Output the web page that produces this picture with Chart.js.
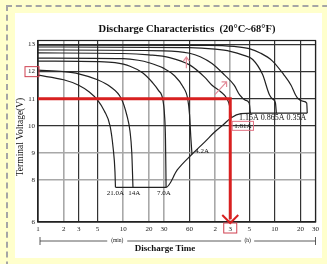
<!DOCTYPE html>
<html>
<head>
<meta charset="utf-8">
<script src="https://cdn.jsdelivr.net/npm/chart.js@4.4.0/dist/chart.umd.min.js"></script>
<style>
  html, body { margin: 0; padding: 0; }
  body { width: 327px; height: 264px; background: #ffffcc; position: relative; overflow: hidden; }
  .frame { position: absolute; left: 6px; top: 5px; width: 340px; height: 290px;
           border-left: 2px dashed #a5a5a5; border-top: 2px dashed #a5a5a5; }
  .box { position: absolute; left: 15px; top: 13px; width: 307px; height: 245px; background: #fff; }
  canvas { display: block; }
</style>
</head>
<body>
<div class="frame"></div>
<div class="box"><canvas id="chart" width="307" height="245"></canvas></div>
<script>
// x: discharge time in minutes (log), y: terminal voltage
const xTicks = [1, 2, 3, 5, 10, 20, 30, 60, 120, 180, 300, 600, 1200, 1800];
const xTickLabels = ['1', '2', '3', '5', '10', '20', '30', '60', '2', '3', '5', '10', '20', '30'];
const yTicks = [6.45, 8, 9, 10, 11, 12, 13];
const yTickLabels = ['6', '8', '9', '10', '11', '12', '13'];

const t21A = [1, 2, 3, 4, 5, 6, 7, 7.6, 8.0, 8.1];
const v21A = [11.87, 11.7, 11.5, 11.25, 10.95, 10.55, 10.0, 9.2, 8.3, 7.73];
const t14A = [1, 2, 3, 5, 7, 9.5, 11, 12, 12.6, 13];
const v14A = [12.06, 12.0, 11.92, 11.7, 11.45, 11.0, 10.4, 9.8, 9.0, 7.73];
const t7A = [1, 5, 8, 12, 17, 22, 26, 29, 30.5, 31.3, 31.8];
const v7A = [12.39, 12.37, 12.33, 12.2, 11.95, 11.6, 11.3, 11.0, 10.4, 9.5, 7.73];
const t4A2 = [1, 10, 15, 20, 30, 40, 50, 57, 60, 62, 64];
const v4A2 = [12.5, 12.48, 12.42, 12.33, 12.12, 11.85, 11.45, 11.0, 10.4, 9.6, 8.95];
const t1A81 = [1, 10, 20, 35, 60, 90, 110, 140, 165, 178, 185];
const v1A81 = [12.69, 12.67, 12.62, 12.52, 12.25, 11.8, 11.5, 11.25, 11.0, 10.7, 10.3];
const t1A15 = [1, 30, 60, 80, 110, 155, 200, 232, 270, 300, 310];
const v1A15 = [12.8, 12.77, 12.68, 12.55, 12.3, 11.87, 11.5, 11.14, 10.95, 10.84, 10.47];
const t0A865 = [1, 60, 120, 180, 260, 330, 430, 520, 570, 610, 625];
const v0A865 = [12.91, 12.89, 12.83, 12.75, 12.6, 12.45, 11.9, 11.14, 10.98, 10.85, 10.47];
const t0A35 = [1, 100, 200, 300, 410, 560, 760, 930, 1050, 1130, 1300, 1420, 1440];
const v0A35 = [12.98, 12.97, 12.93, 12.85, 12.68, 12.4, 11.9, 11.5, 11.14, 11.0, 10.9, 10.84, 10.47];
// final discharge voltage line
const tCut = [8.1, 13, 31.8, 43, 64, 90, 118, 150, 185, 240, 330, 625, 1440];
const vCut = [7.73, 7.73, 7.73, 8.37, 8.95, 9.4, 9.77, 10.05, 10.3, 10.45, 10.47, 10.47, 10.47];
// red reading line: 11V -> 3h
const tRed = [1, 180, 180];
const vRed = [11, 11, 6.55];

const pts = (t, v) => t.map((x, i) => ({ x, y: v[i] }));
const curve = (t, v) => ({
  data: pts(t, v), borderColor: '#222', borderWidth: 1.2, pointRadius: 0,
  cubicInterpolationMode: 'monotone', showLine: true
});

const serif = "'Liberation Serif', 'DejaVu Serif', serif";
const darkX = [1, 3, 5, 60, 300, 600, 1200, 1800];
const grayY = [8, 9];

const decor = {
  id: 'decor',
  beforeDatasetsDraw(chart) {
    const { ctx, chartArea: a } = chart;
    ctx.save();
    ctx.strokeStyle = '#222';
    ctx.lineWidth = 1.2;
    ctx.strokeRect(a.left, a.top, a.right - a.left, a.bottom - a.top);
    ctx.restore();
  },
  afterDraw(chart) {
    const { ctx, chartArea: a, scales } = chart;
    const px = v => scales.x.getPixelForValue(v);
    const py = v => scales.y.getPixelForValue(v);
    ctx.save();
    ctx.fillStyle = '#111';
    ctx.textBaseline = 'middle';

    // titles
    ctx.textAlign = 'center';
    ctx.font = 'bold 10.5px ' + serif;
    ctx.fillText('Discharge Characteristics  (20\u00b0C~68\u00b0F)', 172, 16);
    ctx.font = 'bold 9px ' + serif;
    ctx.fillText('Discharge Time', 150, 236);
    ctx.save();
    ctx.translate(5, 124);
    ctx.rotate(-Math.PI / 2);
    ctx.font = '9.5px ' + serif;
    ctx.fillText('Terminal Voltage(V)', 0, 0);
    ctx.restore();

    // (min) / (h) bracket
    const by = 228;
    ctx.strokeStyle = '#333';
    ctx.lineWidth = 0.8;
    ctx.beginPath();
    ctx.moveTo(a.left + 2, by - 4); ctx.lineTo(a.left + 2, by + 4);
    ctx.moveTo(a.right, by - 4); ctx.lineTo(a.right, by + 4);
    ctx.moveTo(a.left + 2, by); ctx.lineTo(px(10) - 16, by);
    ctx.moveTo(px(10) + 4, by); ctx.lineTo(px(300) - 8, by);
    ctx.moveTo(px(300) + 5, by); ctx.lineTo(a.right, by);
    ctx.stroke();
    ctx.font = '5.5px ' + serif;
    ctx.fillText('(min)', px(10) - 6, by);
    ctx.fillText('(h)', px(300) - 1.5, by);

    // current labels
    ctx.font = '7px ' + serif;
    ctx.fillText('21.0A', px(8.1), py(7.5));
    ctx.fillText('14A', px(13.5), py(7.5));
    ctx.fillText('7.0A', px(30), py(7.5));
    ctx.textAlign = 'left';
    ctx.fillText('4.2A', px(70), py(9.05));
    ctx.fillText('1.81A', px(200), py(10.0));
    ctx.font = '8px ' + serif;
    ctx.fillText('1.15A 0.865A 0.35A', px(228), py(10.28));

    // red / pink marks
    ctx.font = '7px ' + serif;
    ctx.strokeStyle = '#e07080';
    ctx.lineWidth = 1;
    const bw = ctx.measureText('1.81A').width;
    ctx.strokeRect(px(200) - 2, py(10.0) - 4.5, bw + 4, 9);
    ctx.strokeStyle = '#d04050';
    ctx.strokeRect(a.left - 13, py(12) - 5, 14, 10);
    ctx.strokeRect(px(180) - 6.5, a.bottom + 1, 13, 10);

    ctx.strokeStyle = '#d82020';
    ctx.lineWidth = 2;
    ctx.beginPath();
    ctx.moveTo(px(180) - 8, a.bottom - 7);
    ctx.lineTo(px(180), a.bottom + 1);
    ctx.lineTo(px(180) + 8, a.bottom - 7);
    ctx.stroke();

    ctx.strokeStyle = '#e28a98';
    ctx.lineWidth = 1.2;
    const ax = px(55);
    ctx.beginPath();
    ctx.moveTo(ax, py(12.13)); ctx.lineTo(ax, py(12.54));
    ctx.moveTo(ax - 3, py(12.54) + 4); ctx.lineTo(ax, py(12.54)); ctx.lineTo(ax + 3, py(12.54) + 4);
    const x0 = px(118), y0 = py(11.14), x1 = px(163), y1 = py(11.62);
    ctx.moveTo(x0, y0); ctx.lineTo(x1, y1);
    ctx.moveTo(x1 - 5, y1); ctx.lineTo(x1, y1); ctx.lineTo(x1, y1 + 5);
    ctx.stroke();
    ctx.restore();
  }
};

new Chart(document.getElementById('chart'), {
  type: 'scatter',
  data: {
    datasets: [
      { data: pts(tRed, vRed), borderColor: '#d82020', borderWidth: 3, pointRadius: 0, showLine: true, tension: 0 },
      curve(t21A, v21A),
      curve(t14A, v14A),
      curve(t7A, v7A),
      curve(t4A2, v4A2),
      curve(t1A81, v1A81),
      curve(t1A15, v1A15),
      curve(t0A865, v0A865),
      curve(t0A35, v0A35),
      curve(tCut, vCut)
    ]
  },
  options: {
    responsive: false,
    animation: false,
    layout: { padding: { left: 0, top: 27.5, right: 5.7, bottom: 0 } },
    plugins: { legend: { display: false }, tooltip: { enabled: false } },
    scales: {
      x: {
        type: 'logarithmic', min: 1, max: 1800,
        afterBuildTicks: s => { s.ticks = xTicks.map(value => ({ value })); },
        afterFit: s => { s.height = 36; },
        ticks: {
          autoSkip: false, maxRotation: 0, padding: 3, color: '#222',
          font: { family: serif, size: 7 },
          callback: (v, i) => xTickLabels[i]
        },
        grid: {
          drawTicks: false,
          color: c => darkX.includes(c.tick.value) ? '#333' : '#a8a8a8',
          lineWidth: c => darkX.includes(c.tick.value) ? 1.2 : 1.6
        },
        border: { color: '#222', width: 1.2 }
      },
      y: {
        min: 6.45, max: 13.15,
        afterBuildTicks: s => { s.ticks = yTicks.map(value => ({ value })); },
        afterFit: s => { s.width = 23; },
        ticks: {
          padding: 3, color: '#222',
          font: { family: serif, size: 7 },
          callback: (v, i) => yTickLabels[i]
        },
        grid: {
          drawTicks: false,
          color: c => grayY.includes(c.tick.value) ? '#a8a8a8' : '#333',
          lineWidth: c => grayY.includes(c.tick.value) ? 1.6 : 1.2
        },
        border: { color: '#222', width: 1.2 }
      }
    }
  },
  plugins: [decor]
});
</script>
</body>
</html>
